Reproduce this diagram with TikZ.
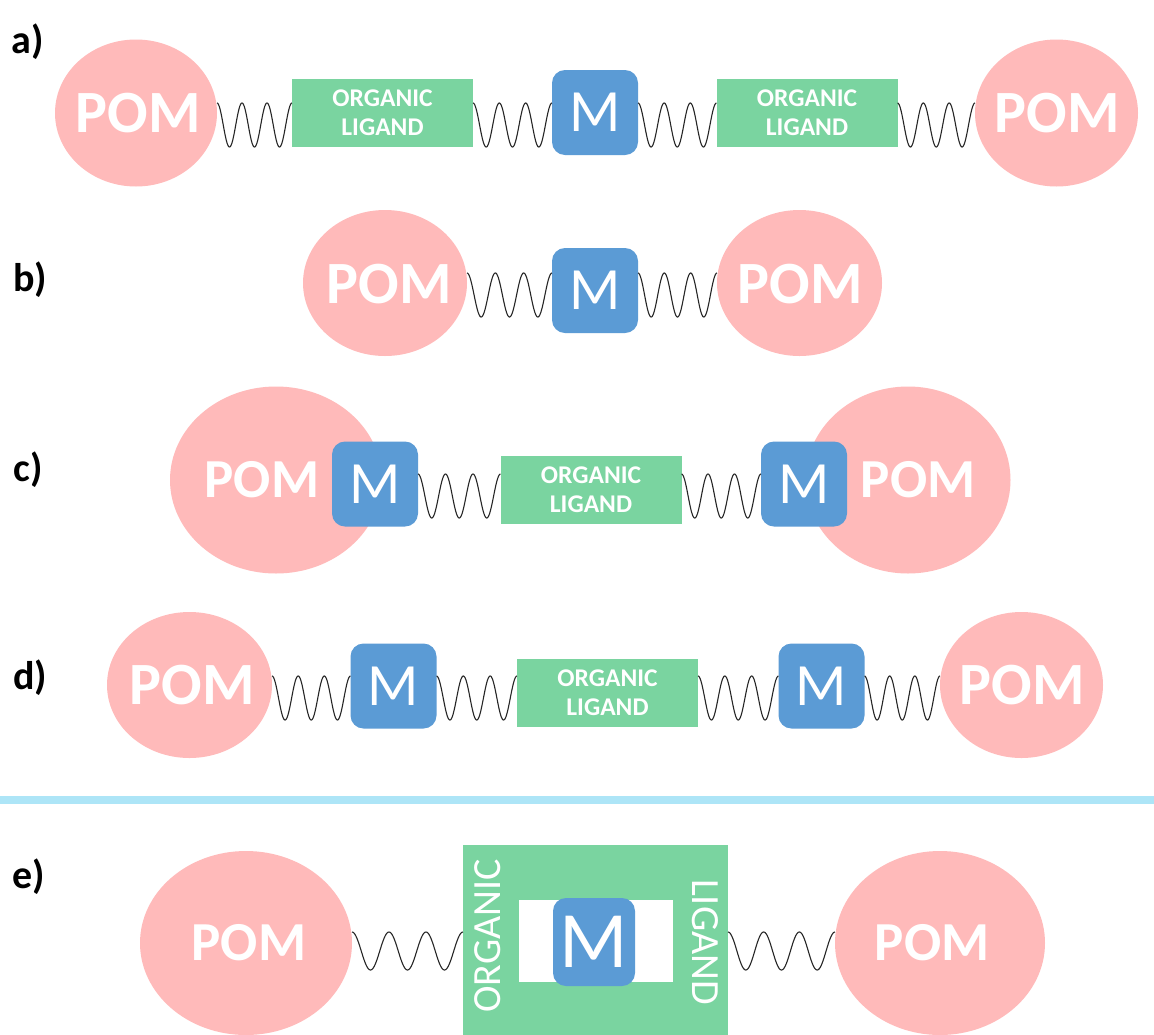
\documentclass[tikz,border=0pt]{standalone}
\usepackage{fontspec}
\setmainfont{Carlito}
\usetikzlibrary{shapes.geometric,calc}
\definecolor{pomc}{RGB}{255,186,186}
\definecolor{mc}{RGB}{91,155,213}
\definecolor{ligc}{RGB}{122,212,160}
\definecolor{sepc}{RGB}{173,229,247}
\tikzset{
  pom/.style={ellipse, fill=pomc, inner sep=0pt, outer sep=0pt},
  pomtxt/.style={inner sep=0pt, text=white, font=\bfseries\fontsize{60}{60}\selectfont},
  metal/.style={rounded corners=13pt, fill=mc, minimum width=86pt, minimum height=85pt, inner sep=0pt, outer sep=0pt, text=white, font=\fontsize{60}{60}\selectfont},
  lig/.style={fill=ligc, minimum width=181pt, minimum height=68pt, inner sep=0pt, outer sep=0pt, text=white, align=center, font=\bfseries\fontsize{25.5}{29}\selectfont},
  lab/.style={inner sep=0pt, font=\bfseries\fontsize{40}{40}\selectfont},
  spr/.style={black!85, line width=1.1pt},
  vtxt/.style={inner sep=0pt, text=white, font=\fontsize{40}{40}\selectfont}
}
\newcommand\wavy[4]{\draw[spr] let \p1=(#1), \p2=(#2) in plot[variable=\t, domain=0:1, samples=145, smooth] ({\x1+(\x2-\x1)*\t}, {-#3pt+#4pt*cos(1080*\t)});}
\begin{document}
\begin{tikzpicture}[x=1pt,y=-1pt]
\useasboundingbox (0,0) rectangle (1154,1034);
\clip (0,0) rectangle (1154,1034);
\fill[white] (0,0) rectangle (1154,1034);
% labels
\node[lab] (la) at (28,42) {a)};
\node[lab] (lb) at (30,280) {b)};
\node[lab] (lc) at (28,470) {c)};
\node[lab] (ld) at (30,678) {d)};
\node[lab] (le) at (29,877) {e)};
% row a
\node[pom, minimum width=162pt, minimum height=147pt] (a1) at (136,113) {};
\node[pomtxt] (a1t) at (138,113) {POM};
\node[lig] (a2) at (382.5,113) {ORGANIC\\LIGAND};
\node[metal] (a3) at (595,112.5) {M};
\node[lig] (a4) at (807,113) {ORGANIC\\LIGAND};
\node[pom, minimum width=163pt, minimum height=147pt] (a5) at (1056.5,113) {};
\node[pomtxt] (a5t) at (1057,113) {POM};
\wavy{a1.east}{a2.west}{125}{22}
\wavy{a2.east}{a3.west}{125}{22}
\wavy{a3.east}{a4.west}{125}{22}
\wavy{a4.east}{a5.west}{125}{22}
% row b
\node[pom, minimum width=164pt, minimum height=146pt] (b1) at (385,283) {};
\node[pomtxt] (b1t) at (389,284) {POM};
\node[metal] (b2) at (595,290.5) {M};
\node[pom, minimum width=165pt, minimum height=146pt] (b3) at (799.5,283) {};
\node[pomtxt] (b3t) at (800,284) {POM};
\wavy{b1.east}{b2.west}{295}{22}
\wavy{b2.east}{b3.west}{295}{22}
% row c
\node[pom, minimum width=212pt, minimum height=187pt] (c1) at (276,480) {};
\node[pom, minimum width=205pt, minimum height=187pt] (c5) at (908,480) {};
\node[metal] (c2) at (375,484) {M};
\node[lig] (c3) at (591,490) {ORGANIC\\LIGAND};
\node[metal] (c4) at (804,484) {M};
\node[pomtxt, font=\bfseries\fontsize{55}{55}\selectfont] (c1t) at (262,480) {POM};
\node[pomtxt, font=\bfseries\fontsize{55}{55}\selectfont] (c5t) at (918,480) {POM};
\wavy{c2.east}{c3.west}{496}{22}
\wavy{c3.east}{c4.west}{496}{22}
% row d
\node[pom, minimum width=165pt, minimum height=146pt] (d1) at (189.5,685) {};
\node[pomtxt] (d1t) at (192,685) {POM};
\node[metal] (d2) at (393.5,686) {M};
\node[lig] (d3) at (607.5,693) {ORGANIC\\LIGAND};
\node[metal] (d4) at (821.5,686) {M};
\node[pom, minimum width=163pt, minimum height=146pt] (d5) at (1021.5,685) {};
\node[pomtxt] (d5t) at (1022,685) {POM};
\wavy{d1.east}{d2.west}{698}{22}
\wavy{d2.east}{d3.west}{698}{22}
\wavy{d3.east}{d4.west}{698}{22}
\wavy{d4.east}{d5.west}{698}{22}
% separator
\fill[sepc] (0,796) rectangle (1154,804);
% row e
\node[pom, minimum width=212pt, minimum height=184pt] (e1) at (246,943) {};
\node[pomtxt, font=\bfseries\fontsize{55}{55}\selectfont] (e1t) at (249,943) {POM};
\node[fill=ligc, minimum width=265pt, minimum height=200pt, inner sep=0pt, outer sep=0pt] (e2) at (595.5,945) {};
\node[fill=white, minimum width=154pt, minimum height=82pt, inner sep=0pt] (e2w) at (596,941) {};
\node[metal, minimum width=82pt, minimum height=88pt, font=\fontsize{80}{80}\selectfont] (e3) at (594,942) {M};
\node[vtxt, rotate=90] (e2a) at (488,936) {ORGANIC};
\node[vtxt, rotate=-90] (e2b) at (705,942) {LIGAND};
\node[pom, minimum width=210pt, minimum height=184pt] (e4) at (940,943) {};
\node[pomtxt, font=\bfseries\fontsize{55}{55}\selectfont] (e4t) at (932,943) {POM};
\wavy{e1.east}{e2.west}{951}{19}
\wavy{e2.east}{e4.west}{951}{19}
\end{tikzpicture}
\end{document}
